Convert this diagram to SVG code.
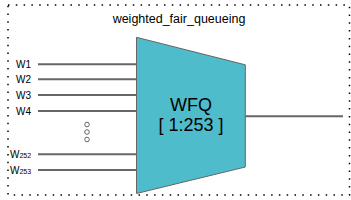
<svg xmlns="http://www.w3.org/2000/svg" width="351" height="200" viewBox="0 0 351 200">
<style>
.border{fill:none;stroke:#000;stroke-width:1.5;stroke-dasharray:1.5 6.3}
.wire{stroke:#666;stroke-width:2;fill:none}
.lbl{font-family:"Liberation Sans",Arial,sans-serif;font-size:10px;fill:#000}
.sub{font-size:7px}
.title{font-family:"Liberation Sans",Arial,sans-serif;font-size:12.5px;fill:#000;text-anchor:middle}
.big{font-family:"Liberation Sans",Arial,sans-serif;font-size:18px;fill:#000;text-anchor:middle}
.dot{fill:none;stroke:#666;stroke-width:1}
</style>
<rect class="border" x="8" y="5" width="341.5" height="190"/>
<text class="title" x="179" y="23">weighted_fair_queueing</text>
<g id="connectors">
<line class="wire" x1="38" y1="64.3" x2="136" y2="64.3"/>
<line class="wire" x1="38" y1="79.3" x2="136" y2="79.3"/>
<line class="wire" x1="38" y1="95" x2="136" y2="95"/>
<line class="wire" x1="38" y1="111" x2="136" y2="111"/>
<line class="wire" x1="38" y1="154.3" x2="136" y2="154.3"/>
<line class="wire" x1="38" y1="170" x2="136" y2="170"/>
<line class="wire" x1="245" y1="116.3" x2="343" y2="116.3"/>
</g>
<g id="labels">
<text class="lbl" x="16" y="68">W1</text>
<text class="lbl" x="16" y="83">W2</text>
<text class="lbl" x="16" y="99">W3</text>
<text class="lbl" x="16" y="115">W4</text>
<text class="lbl" x="10" y="158">W<tspan class="sub">252</tspan></text>
<text class="lbl" x="10" y="173.5">W<tspan class="sub">253</tspan></text>
</g>
<g id="ellipsis">
<circle class="dot" cx="87" cy="124.5" r="2.3"/>
<circle class="dot" cx="87" cy="132" r="2.3"/>
<circle class="dot" cx="87" cy="139.5" r="2.3"/>
</g>
<g id="wfq">
<polygon points="136.5,37.3 245.3,64.8 245.3,167 136.5,193.5" fill="#4fbccc" stroke="#666" stroke-width="1"/>
<text class="big" x="191" y="111">WFQ</text>
<text class="big" x="191" y="131">[ 1:253 ]</text>
</g>
</svg>
